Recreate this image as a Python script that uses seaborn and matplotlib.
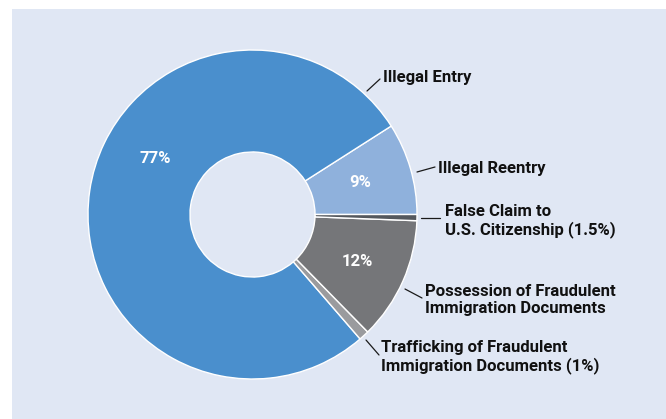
import matplotlib
matplotlib.use("Agg")
import matplotlib.pyplot as plt
from matplotlib.patches import Rectangle
import seaborn as sns

# Data (wedge order counterclockwise from 3 o'clock)
categories = ["Illegal Reentry", "Illegal Entry",
              "Trafficking of Fraudulent Immigration Documents",
              "Possession of Fraudulent Immigration Documents",
              "False Claim to U.S. Citizenship"]
shares = [9, 77, 1, 12, 0.6]
pct_labels = ["9%", "77%", "", "12%", ""]
label_texts = ["Illegal Reentry", "Illegal Entry",
               "Trafficking of Fraudulent\nImmigration Documents (1%)",
               "Possession of Fraudulent\nImmigration Documents",
               "False Claim to\nU.S. Citizenship (1.5%)"]
colors = ["#8fb1dc", "#4a8fcd", "#9a9b9e", "#757679", "#54585d"]

sns.set_theme(style="white")
plt.rcParams["font.family"] = ["Roboto", "DejaVu Sans"]

W, H = 666, 419
fig = plt.figure(figsize=(W / 100, H / 100), dpi=100)
fig.patches.append(Rectangle((12 / W, 0), 1, (H - 9) / H, transform=fig.transFigure,
                             facecolor="#e0e7f4", edgecolor="none", zorder=-5))

ax = fig.add_axes([0, 0, 1, 1])
ax.patch.set_visible(False)

cx, cy, R = 252.5, H - 214.5, 164.5
wedges, _ = ax.pie(shares, colors=colors, startangle=0, counterclock=True,
                   center=(cx, cy), radius=R,
                   wedgeprops=dict(width=R * 0.62, edgecolor="white", linewidth=1.0))
ax.set_xlim(0, W)
ax.set_ylim(0, H)
ax.set_aspect("equal")
ax.axis("off")

# percentage labels inside the ring (pixel positions, y from top)
pct_pos = {"9%": (360, 182), "77%": (155, 158), "12%": (357, 262)}
for p in pct_labels:
    if p:
        x, y = pct_pos[p]
        ax.text(x, H - y, p, color="white", fontsize=12, fontweight="bold",
                ha="center", va="center")

# outside labels with leader lines: (line start, line end, text x, text y)
layout = [
    ((417, 172), (435, 167), 438, 168),
    ((367, 91), (380, 79), 383, 77),
    ((366, 340), (379, 355), 381, 357),
    ((405, 289), (422, 298), 425, 300),
    ((421, 218), (440, 218), 445, 221),
]
for txt, (p0, p1, tx, ty) in zip(label_texts, layout):
    ax.plot([p0[0], p1[0]], [H - p0[1], H - p1[1]], color="#1a1a1a", lw=0.9)
    ax.text(tx, H - ty, txt, color="#111111", fontsize=12, fontweight="bold",
            ha="left", va="center", linespacing=1.1)

fig.savefig("out.png", dpi=100)
